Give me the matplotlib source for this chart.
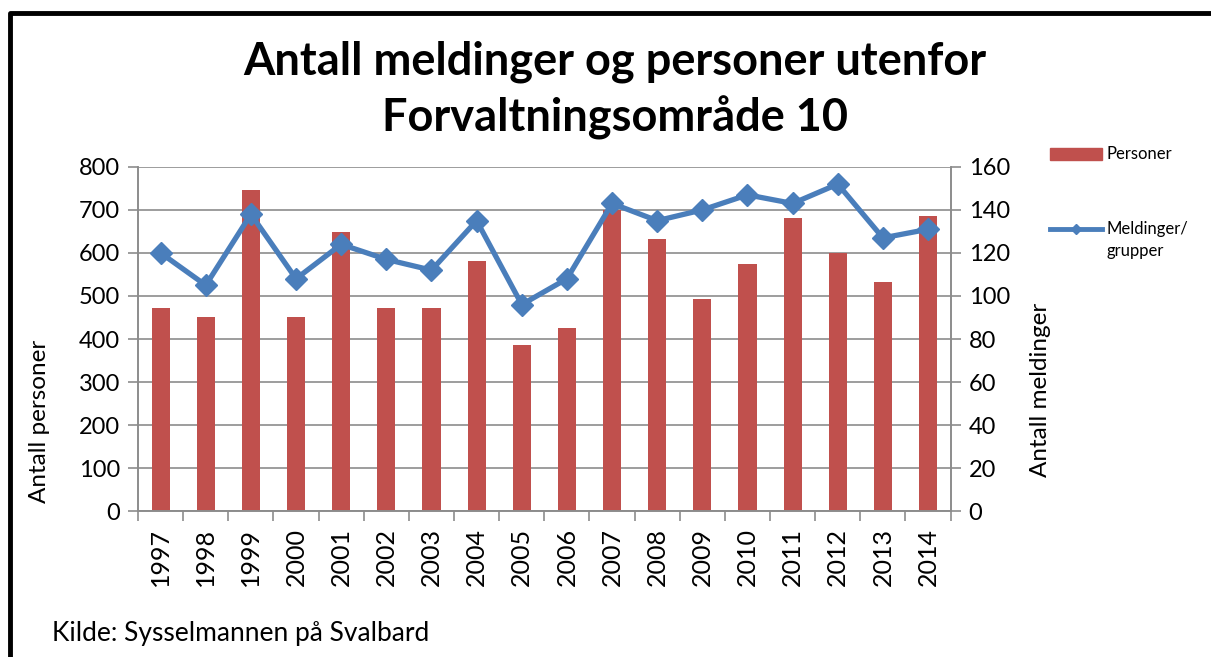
import numpy as np
import matplotlib.pyplot as plt
from matplotlib.patches import Rectangle

# data
years = [str(y) for y in range(1997, 2015)]
personer = [473, 451, 746, 451, 649, 473, 473, 581, 387, 425,
            700, 633, 493, 575, 681, 600, 533, 686]
meldinger = [120, 105, 138, 108, 124, 117, 112, 135, 96, 108,
             143, 135, 140, 147, 143, 152, 127, 131]

bar_color = "#c0504d"
line_color = "#4a7ebb"
grid_color = "#8c8c8c"

plt.rcParams["font.family"] = ["Lato", "DejaVu Sans"]

fig = plt.figure(figsize=(12.11, 6.57), dpi=100)
ax = fig.add_axes([0.114, 0.222, 0.671, 0.524])
ax2 = ax.twinx()

x = np.arange(len(years))
ax.bar(x, personer, width=0.4, color=bar_color, zorder=2, label="Personer")
ax2.plot(x, meldinger, color=line_color, lw=3.8, marker="D", markersize=11,
         zorder=3, label="Meldinger/\ngrupper")

ax.set_xlim(-0.5, len(years) - 0.5)
ax.set_ylim(0, 800)
ax2.set_ylim(0, 160)
ax.set_yticks(range(0, 801, 100))
ax2.set_yticks(range(0, 161, 20))
ax.set_xticks(x)
ax.set_xticklabels(years, rotation=90)
ax.set_xticks(np.arange(-0.5, len(years), 1), minor=True)
ax.tick_params(axis="x", which="major", length=0, labelsize=18, pad=12)
ax.tick_params(axis="x", which="minor", length=7, color=grid_color, width=1.2)
ax.tick_params(axis="y", length=7, color=grid_color, width=1.2, labelsize=17, pad=6)
ax2.tick_params(axis="y", length=7, color=grid_color, width=1.2, labelsize=17, pad=6)

ax.yaxis.grid(True, color=grid_color, lw=1.2, zorder=0)
ax.set_axisbelow(True)
for a in (ax, ax2):
    a.spines["top"].set_visible(False)
    for s in ("left", "right", "bottom"):
        a.spines[s].set_color(grid_color)
        a.spines[s].set_linewidth(1.2)

fig.text(0.508, 0.906, "Antall meldinger og personer utenfor",
         ha="center", va="center", fontsize=32.5, fontweight="bold")
fig.text(0.508, 0.82, "Forvaltningsområde 10",
         ha="center", va="center", fontsize=32.5, fontweight="bold")

fig.text(0.033, 0.358, "Antall personer", rotation=90, ha="center",
         va="center", fontsize=17.5)
fig.text(0.859, 0.406, "Antall meldinger", rotation=90, ha="center",
         va="center", fontsize=17.5)

fig.text(0.043, 0.036, "Kilde: Sysselmannen på Svalbard", ha="left",
         va="center", fontsize=19)

# legend drawn by hand to the right
fig.patches.append(Rectangle((0.867, 0.757), 0.043, 0.017, color=bar_color,
                             transform=fig.transFigure, figure=fig))
fig.text(0.914, 0.765, "Personer", ha="left", va="center", fontsize=12)
legend_line = plt.Line2D([0.867, 0.8885, 0.91], [0.652, 0.652, 0.652],
                         color=line_color, lw=3.5, marker="D", markersize=5,
                         markevery=[1], transform=fig.transFigure, figure=fig)
fig.lines.append(legend_line)
fig.text(0.914, 0.652, "Meldinger/", ha="left", va="center", fontsize=12)
fig.text(0.914, 0.618, "grupper", ha="left", va="center", fontsize=12)

# frame around the chart (left and top visible)
fig.lines.append(plt.Line2D([0.008, 0.008, 1.0], [0.0, 0.98, 0.98],
                            color="black", lw=3.5,
                            transform=fig.transFigure, figure=fig))

fig.savefig("out.png", dpi=100)
